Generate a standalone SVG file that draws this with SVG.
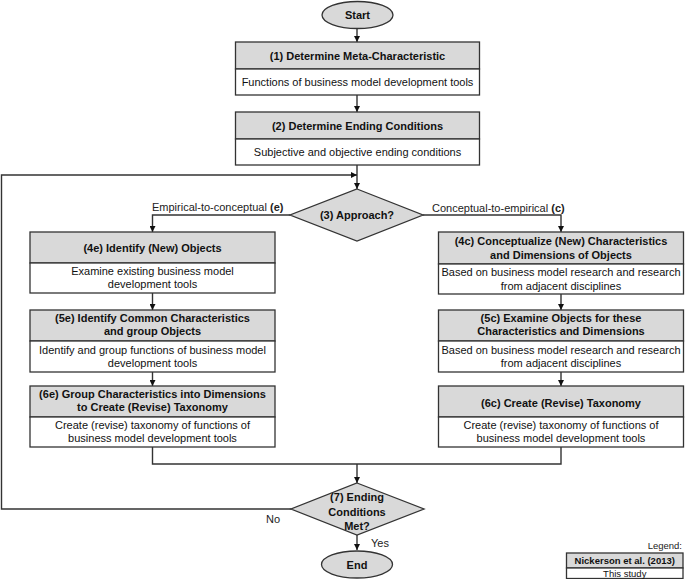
<svg xmlns="http://www.w3.org/2000/svg" width="685" height="579" viewBox="0 0 685 579">
<defs>
<style>
.hd{fill:#d9d9d9;stroke:#333;stroke-width:1.3}
.bd{fill:#fff;stroke:#333;stroke-width:1.3}
.t{font-family:"Liberation Sans",Arial,sans-serif;font-size:11px;fill:#111;text-anchor:middle}
.b{font-weight:bold}
.c{fill:none;stroke:#333;stroke-width:1.4}
.lbl{font-family:"Liberation Sans",Arial,sans-serif;font-size:11px;fill:#222}
.sm{font-size:9.5px}
</style>
<marker id="ah" viewBox="0 0 8 8" refX="8" refY="4" markerWidth="6" markerHeight="6" orient="auto" markerUnits="userSpaceOnUse">
<path d="M0,0 L8,4 L0,8 z" fill="#111"/>
</marker>
</defs>
<rect width="685" height="579" fill="#fff"/>
<g id="connectors">
<path class="c" d="M357,28 V42" marker-end="url(#ah)"/>
<path class="c" d="M357,95 V112" marker-end="url(#ah)"/>
<path class="c" d="M357,165 V189" marker-end="url(#ah)"/>
<path class="c" d="M291,509 H1.5 V175 H357" marker-end="url(#ah)"/>
<path class="c" d="M290,215 H152.5 V232" marker-end="url(#ah)"/>
<path class="c" d="M423,215 H561 V232" marker-end="url(#ah)"/>
<path class="c" d="M152.5,293 V310" marker-end="url(#ah)"/>
<path class="c" d="M152.5,372 V386" marker-end="url(#ah)"/>
<path class="c" d="M561,294 V310" marker-end="url(#ah)"/>
<path class="c" d="M561,372 V386" marker-end="url(#ah)"/>
<path class="c" d="M152.5,447 V464 H561 V447"/>
<path class="c" d="M357,464 V483" marker-end="url(#ah)"/>
<path class="c" d="M357,535 V550" marker-end="url(#ah)"/>
<text class="lbl" x="152" y="211">Empirical-to-conceptual <tspan font-weight="bold">(e)</tspan></text>
<text class="lbl" x="432" y="212">Conceptual-to-empirical <tspan font-weight="bold">(c)</tspan></text>
<text class="lbl" x="266" y="523">No</text>
<text class="lbl" x="371" y="547">Yes</text>
</g>
<g id="start">
<ellipse class="hd" cx="357.5" cy="15" rx="35.5" ry="13.5"/>
<text class="t b" x="357.5" y="19">Start</text>
</g>
<g id="step1">
<rect class="hd" x="235.5" y="42" width="244" height="27"/>
<rect class="bd" x="235.5" y="69" width="244" height="26"/>
<text class="t b" x="357.5" y="59.5">(1) Determine Meta-Characteristic</text>
<text class="t" x="357.5" y="86">Functions of business model development tools</text>
</g>
<g id="step2">
<rect class="hd" x="235.5" y="112" width="244" height="27"/>
<rect class="bd" x="235.5" y="139" width="244" height="26"/>
<text class="t b" x="357.5" y="129.5">(2) Determine Ending Conditions</text>
<text class="t" x="357.5" y="156">Subjective and objective ending conditions</text>
</g>
<g id="step3">
<polygon class="hd" points="357,189 423,215 357,241 290,215"/>
<text class="t b" x="357" y="219">(3) Approach?</text>
</g>
<g id="step4e">
<rect class="hd" x="30" y="232" width="245" height="31"/>
<rect class="bd" x="30" y="263" width="245" height="30"/>
<text class="t b" x="152.5" y="251.5">(4e) Identify (New) Objects</text>
<text class="t" x="152.5" y="275">Examine existing business model</text>
<text class="t" x="152.5" y="288">development tools</text>
</g>
<g id="step5e">
<rect class="hd" x="30" y="310" width="245" height="31"/>
<rect class="bd" x="30" y="341" width="245" height="31"/>
<text class="t b" x="152.5" y="322">(5e) Identify Common Characteristics</text>
<text class="t b" x="152.5" y="335">and group Objects</text>
<text class="t" x="152.5" y="354">Identify and group functions of business model</text>
<text class="t" x="152.5" y="367">development tools</text>
</g>
<g id="step6e">
<rect class="hd" x="30" y="386" width="245" height="31"/>
<rect class="bd" x="30" y="417" width="245" height="30"/>
<text class="t b" x="152.5" y="398">(6e) Group Characteristics into Dimensions</text>
<text class="t b" x="152.5" y="411">to Create (Revise) Taxonomy</text>
<text class="t" x="152.5" y="429">Create (revise) taxonomy of functions of</text>
<text class="t" x="152.5" y="442">business model development tools</text>
</g>
<g id="step4c">
<rect class="hd" x="438.5" y="232" width="245" height="32"/>
<rect class="bd" x="438.5" y="264" width="245" height="30"/>
<text class="t b" x="561" y="245">(4c) Conceptualize (New) Characteristics</text>
<text class="t b" x="561" y="259">and Dimensions of Objects</text>
<text class="t" x="561" y="276">Based on business model research and research</text>
<text class="t" x="561" y="290">from adjacent disciplines</text>
</g>
<g id="step5c">
<rect class="hd" x="438.5" y="310" width="245" height="31"/>
<rect class="bd" x="438.5" y="341" width="245" height="31"/>
<text class="t b" x="561" y="322">(5c) Examine Objects for these</text>
<text class="t b" x="561" y="335">Characteristics and Dimensions</text>
<text class="t" x="561" y="354">Based on business model research and research</text>
<text class="t" x="561" y="367">from adjacent disciplines</text>
</g>
<g id="step6c">
<rect class="hd" x="438.5" y="386" width="245" height="31"/>
<rect class="bd" x="438.5" y="417" width="245" height="30"/>
<text class="t b" x="561" y="407">(6c) Create (Revise) Taxonomy</text>
<text class="t" x="561" y="429">Create (revise) taxonomy of functions of</text>
<text class="t" x="561" y="442">business model development tools</text>
</g>
<g id="step7">
<polygon class="hd" points="357,483 424,509 357,535 291,509"/>
<text class="t b" x="357" y="501">(7) Ending</text>
<text class="t b" x="357" y="516">Conditions</text>
<text class="t b" x="357" y="530">Met?</text>
</g>
<g id="end">
<ellipse class="hd" cx="357" cy="564.5" rx="35.5" ry="13.5"/>
<text class="t b" x="357" y="569">End</text>
</g>
<g id="legend">
<text class="lbl sm" x="682" y="549" text-anchor="end">Legend:</text>
<rect class="hd" x="566.5" y="553" width="116.5" height="15"/>
<rect class="bd" x="566.5" y="568" width="116.5" height="10.5"/>
<text class="t b sm" x="624.75" y="564">Nickerson et al. (2013)</text>
<text class="t sm" x="624.75" y="576.5">This study</text>
</g>
</svg>
